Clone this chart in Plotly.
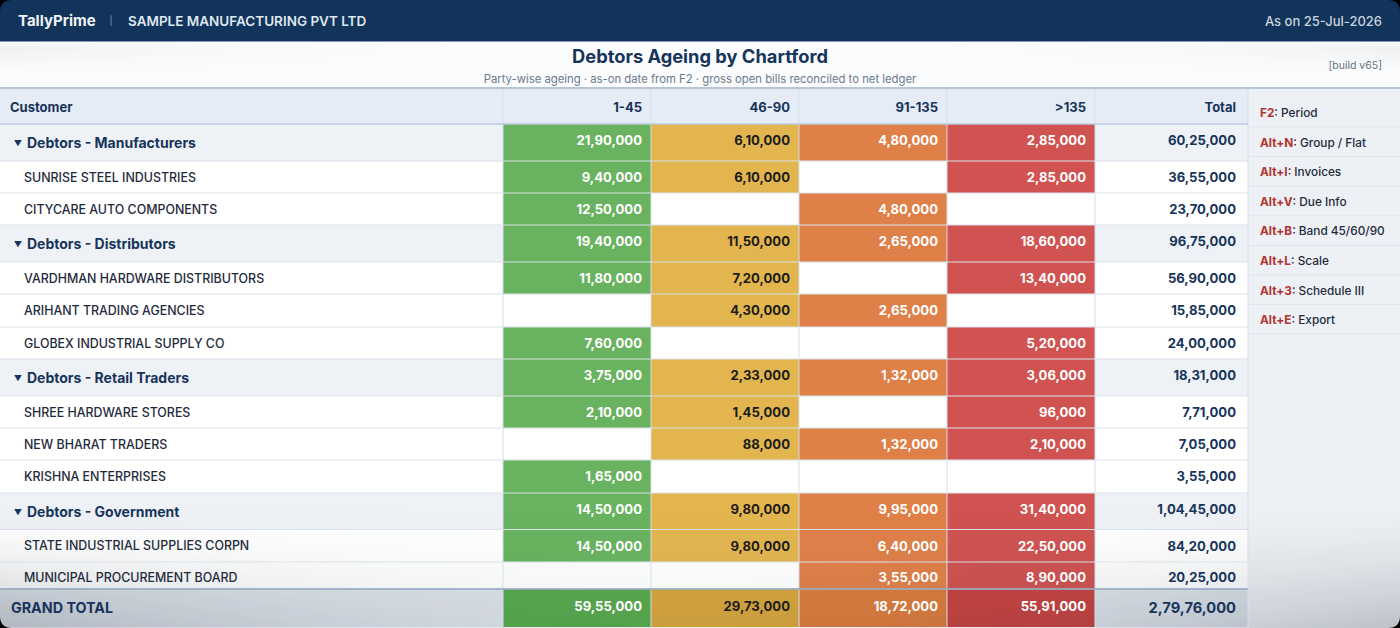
import numpy as np
import plotly.graph_objects as go

# ---- data ----
customers = ["Debtors - Manufacturers", "SUNRISE STEEL INDUSTRIES", "CITYCARE AUTO COMPONENTS",
             "Debtors - Distributors", "VARDHMAN HARDWARE DISTRIBUTORS", "ARIHANT TRADING AGENCIES",
             "GLOBEX INDUSTRIAL SUPPLY CO", "Debtors - Retail Traders", "SHREE HARDWARE STORES",
             "NEW BHARAT TRADERS", "KRISHNA ENTERPRISES", "Debtors - Government",
             "STATE INDUSTRIAL SUPPLIES CORPN", "MUNICIPAL PROCUREMENT BOARD", "GRAND TOTAL"]
band_1_45 = [2190000, 940000, 1250000, 1940000, 1180000, None, 760000, 375000, 210000, None, 165000,
             1450000, 1450000, None, 5955000]
band_46_90 = [610000, 610000, None, 1150000, 720000, 430000, None, 233000, 145000, 88000, None,
              980000, 980000, None, 2973000]
band_91_135 = [480000, None, 480000, 265000, None, 265000, None, 132000, None, 132000, None,
               995000, 640000, 355000, 1872000]
band_over_135 = [285000, 285000, None, 1860000, 1340000, None, 520000, 306000, 96000, 210000, None,
                 3140000, 2250000, 890000, 5591000]
totals = [6025000, 3655000, 2370000, 9675000, 5690000, 1585000, 2400000, 1831000, 771000, 705000,
          355000, 10445000, 8420000, 2025000, 27976000]
headers = ["Customer", "1-45", "46-90", "91-135", ">135", "Total"]
shortcut_keys = ["F2", "Alt+N", "Alt+I", "Alt+V", "Alt+B", "Alt+L", "Alt+3", "Alt+E"]
shortcut_names = ["Period", "Group / Flat", "Invoices", "Due Info", "Band 45/60/90", "Scale", "Schedule III", "Export"]

# ---- page geometry (pixels) ----
W, H = 1400, 628
col_edges = [0, 503, 651, 799, 947, 1095, 1248]
row_heights = [37, 32, 32, 37, 32, 33, 32, 37, 32, 32, 33, 36.5, 32.5, 27, 38]
head_top, head_bottom = 88, 124
row_edges = list(head_bottom + np.cumsum([0] + row_heights))

FONT = "Inter"
NAVY = "#17345a"
TEXT_DY = 1.5
band_cols = [band_1_45, band_46_90, band_91_135, band_over_135]
band_colors = ["#69b360", "#e2b54f", "#e08049", "#d05351"]
gt_colors = ["#58a94e", "#d6a53d", "#da7c3d", "#c64341"]
band_text = ["#ffffff", "#1b1b1b", "#ffffff", "#ffffff"]


def inr(v):
    # Indian digit grouping
    s = str(v)
    if len(s) <= 3:
        return s
    head, tail = s[:-3], s[-3:]
    parts = []
    while len(head) > 2:
        parts.insert(0, head[-2:])
        head = head[:-2]
    if head:
        parts.insert(0, head)
    return ",".join(parts) + "," + tail


is_group = [c.startswith("Debtors") for c in customers]
is_grand = [c == "GRAND TOTAL" for c in customers]

# cell class: 0 white, 1 group row, 2 grand row, 3-6 bands, 7-10 grand total bands
z = []
for r in range(len(customers)):
    base = 2 if is_grand[r] else (1 if is_group[r] else 0)
    row = [base]
    for c, col in enumerate(band_cols):
        if col[r] is None:
            row.append(base)
        else:
            row.append((7 if is_grand[r] else 3) + c)
    row.append(base)
    z.append(row)

palette = ["#ffffff", "#eef2f6", "#dde3ea"] + band_colors + gt_colors
n = len(palette)
colorscale = []
for i, color in enumerate(palette):
    colorscale += [[i / n, color], [(i + 1) / n, color]]

fig = go.Figure()

# ageing grid
fig.add_trace(go.Heatmap(x=col_edges, y=row_edges, z=z, zmin=0, zmax=n, colorscale=colorscale,
                         showscale=False, hoverinfo="skip"))

# soft shading that falls across the bottom and the top corners of the screen
gx = np.linspace(0, W, 57)
gy = np.linspace(0, H, 80)
xx, yy = np.meshgrid(gx, gy)
edge = np.abs(xx - W / 2) / (W / 2)
shade = 0.25 * np.clip((yy - 500) / 128, 0, 1) ** 1.6 * (0.26 + 0.74 * edge ** 2)
shade += 0.07 * np.clip((72 - yy) / 30, 0, 1) * (yy > 41) * edge ** 3
fig.add_trace(go.Heatmap(x=gx, y=gy, z=shade, zmin=0, zmax=1, zsmooth="best", showscale=False,
                         colorscale=[[0, "rgba(40,50,65,0)"], [1, "rgba(40,50,65,1)"]], hoverinfo="skip"))


def add_text(xs, ys, texts, pos, size, color, weight=400):
    fig.add_trace(go.Scatter(x=xs, y=[v + TEXT_DY for v in ys], text=texts, mode="text", textposition=pos,
                             cliponaxis=False, hoverinfo="skip", showlegend=False,
                             textfont=dict(family=FONT, size=size, color=color, weight=weight)))


# text centre of each row; the clipped row keeps the position of a full row
row_mid = []
for r in range(len(customers)):
    if customers[r] == "MUNICIPAL PROCUREMENT BOARD":
        row_mid.append(row_edges[r] + 15.5)
    elif is_group[r]:
        row_mid.append(row_edges[r] + 18.5)
    else:
        row_mid.append(row_edges[r] + row_heights[r] / 2)

# customer column
for r, name in enumerate(customers):
    if is_grand[r]:
        add_text([11], [row_mid[r]], [name], "middle right", 14.3, NAVY, 700)
    elif is_group[r]:
        add_text([18], [row_mid[r]], ["▼"], "middle center", 8, NAVY, 700)
        add_text([27], [row_mid[r]], [name], "middle right", 14, NAVY, 700)
    else:
        add_text([24], [row_mid[r]], [name], "middle right", 12.4, "#1f2b3c", 500)

# band columns
for c, col in enumerate(band_cols):
    rows = [r for r in range(len(col)) if col[r] is not None]
    add_text([col_edges[c + 2] - 9] * len(rows),
             [row_mid[r] - (2 if is_group[r] or is_grand[r] else 0) for r in rows],
             [inr(col[r]) for r in rows], "middle left", 13.1, band_text[c], 700)

# total column
add_text([1236] * len(totals), [row_mid[r] - (2 if is_group[r] else 0) for r in range(len(totals))],
         [inr(v) for v in totals[:-1]] + [""], "middle left", 13.1, NAVY, 700)
add_text([1236], [row_mid[-1]], [inr(totals[-1])], "middle left", 14.7, NAVY, 700)

# table header
head_x = [10] + [e - 9 for e in col_edges[2:6]] + [1236]
add_text(head_x[:1], [107], headers[:1], "middle right", 13, NAVY, 700)
add_text(head_x[1:], [107] * 5, headers[1:], "middle left", 13, NAVY, 700)

# shortcut panel
key_y = [112.5 + i * 29.6 for i in range(len(shortcut_keys))]
labels = [f'<span style="color:#b5332f;font-weight:700">{k}</span>: {v}'
          for k, v in zip(shortcut_keys, shortcut_names)]
add_text([1260] * len(labels), key_y, labels, "middle right", 11.8, "#1f2b3c", 500)

# title block and top bar
add_text([18], [21], ["TallyPrime"], "middle right", 15, "#eef3f8", 700)
add_text([111], [20.5], ["|"], "middle center", 9, "#8ea3ba", 400)
add_text([128], [21], ["SAMPLE MANUFACTURING PVT LTD"], "middle right", 13.5, "#dfe7ef", 600)
add_text([1382], [21], ["As on 25-Jul-2026"], "middle left", 13, "#c9d3de", 500)
add_text([700], [56.5], ["Debtors Ageing by Chartford"], "middle center", 18.3, NAVY, 700)
add_text([700], [78.5], ["Party-wise ageing · as-on date from F2 · gross open bills reconciled to net ledger"],
         "middle center", 11.3, "#6b7a8c", 400)
add_text([1382], [64.5], ["[build v65]"], "middle left", 10.5, "#66727f", 400)

# panels below the traces, rules above them
shapes = [
    dict(type="rect", layer="below", line_width=0, fillcolor="#fbfcfd", x0=0, x1=W, y0=0, y1=H),
    dict(type="rect", layer="below", line_width=0, fillcolor="#12335a", x0=0, x1=W, y0=0, y1=41.5),
    dict(type="rect", layer="below", line_width=0, fillcolor="#e6ecf5", x0=0, x1=1248, y0=head_top, y1=head_bottom),
    dict(type="rect", layer="below", line_width=0, fillcolor="#edf1f5", x0=1248, x1=W, y0=head_top, y1=H),
]
for e in col_edges[1:]:
    shapes.append(dict(type="line", x0=e, x1=e, y0=head_top, y1=H, line=dict(color="#d3dfea", width=1)))
for e in row_edges[1:-1]:
    shapes.append(dict(type="line", x0=0, x1=1248, y0=e, y1=e, line=dict(color="#d9e2ea", width=1)))
for i in range(len(shortcut_keys)):
    y = 127 + i * 29.6
    shapes.append(dict(type="line", x0=1248, x1=W, y0=y, y1=y, line=dict(color="#dfe5ec", width=1)))
shapes.append(dict(type="line", x0=0, x1=W, y0=head_top, y1=head_top, line=dict(color="#b4c5d8", width=2)))
shapes.append(dict(type="line", x0=0, x1=1248, y0=head_bottom, y1=head_bottom, line=dict(color="#bccbdb", width=1.5)))
shapes.append(dict(type="line", x0=0, x1=1248, y0=row_edges[-2], y1=row_edges[-2], line=dict(color="#8ea3bd", width=1.5)))

# black screen corners, drawn last so they cover every panel
R = 12
corner_paths = [f"M0,0 L{R},0 Q0,0 0,{R} Z", f"M{W},0 L{W-R},0 Q{W},0 {W},{R} Z",
                f"M0,{H} L{R},{H} Q0,{H} 0,{H-R} Z", f"M{W},{H} L{W-R},{H} Q{W},{H} {W},{H-R} Z"]
for p in corner_paths:
    shapes.append(dict(type="path", path=p, fillcolor="#000000", line_width=0))

fig.update_layout(width=W, height=H, margin=dict(l=0, r=0, t=0, b=0), paper_bgcolor="#000000",
                  plot_bgcolor="rgba(0,0,0,0)", showlegend=False, shapes=shapes,
                  xaxis=dict(range=[0, W], visible=False, fixedrange=True),
                  yaxis=dict(range=[H, 0], visible=False, fixedrange=True))

fig.write_html("out.html", config=dict(displayModeBar=False), post_script="document.body.style.margin='0';")
